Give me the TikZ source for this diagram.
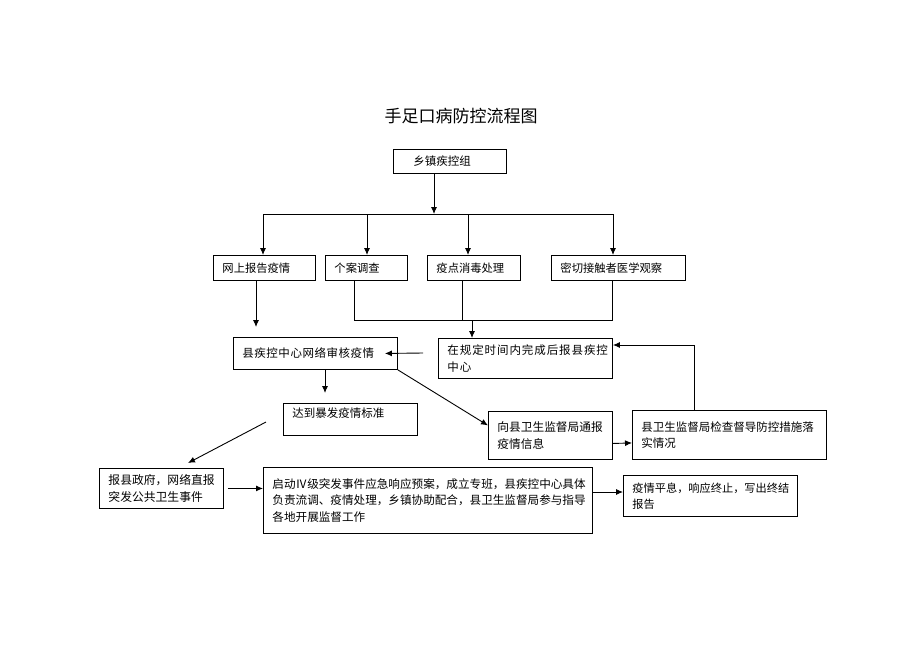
\documentclass[tikz,border=0pt]{standalone}
\usepackage{fontspec}
\newfontfamily\cjk{Noto Sans CJK SC}
\newfontfamily\cjkA[LetterSpace=4.5]{Noto Sans CJK SC}
\newfontfamily\cjkB[LetterSpace=8]{Noto Sans CJK SC}
\usetikzlibrary{arrows.meta}
\begin{document}
\begin{tikzpicture}[x=1pt,y=-1pt,
  box/.style={draw, line width=0.9pt, anchor=north west, align=left,
    inner xsep=9pt, inner ysep=3pt, font=\cjk\fontsize{11.5}{16.5}\selectfont},
  rowbox/.style={box, font=\cjk\fontsize{11.3}{16.5}\selectfont},
  conn/.style={line width=0.9pt},
  arr/.style={conn, -{Latex[length=7pt,width=6pt]}}]
\useasboundingbox (0,0) rectangle (920,651);

\node[font=\cjk\fontsize{17}{20}\selectfont] (title) at (461,116) {手足口病防控流程图};

\node[box, text width=95pt, minimum height=24pt] (town) at (393,149) {\hspace*{11pt}乡镇疾控组};

\node[rowbox, text width=84pt, minimum height=25pt] (r1) at (213,255) {网上报告疫情};
\node[rowbox, text width=64pt, minimum height=25pt] (r2) at (325,255) {个案调查};
\node[rowbox, text width=75pt, minimum height=25pt] (r3) at (427,255) {疫点消毒处理};
\node[rowbox, text width=116pt, minimum height=25pt] (r4) at (551,255) {密切接触者医学观察};

\node[box, font=\cjkA\fontsize{11.5}{16.5}\selectfont, text width=146pt, minimum height=32pt] (cdc) at (233,337) {县疾控中心网络审核疫情};
\node[box, font=\cjkB\fontsize{11.5}{16.5}\selectfont, text width=156pt, minimum height=40pt] (rep) at (438,338) {在规定时间内完成后报县疾控\\中心};
\node[box, inner ysep=4pt, text depth=14pt, text width=116pt] (outb) at (283,403) {达到暴发疫情标准};
\node[box, font=\cjk\fontsize{11.7}{16.5}\selectfont, text width=106pt, minimum height=48pt] (notify) at (488,411) {向县卫生监督局通报\\疫情信息};
\node[box, text width=176pt, minimum height=49pt] (insp) at (632,410) {县卫生监督局检查督导防控措施落\\实情况};

\node[box, font=\cjk\fontsize{11.8}{16.5}\selectfont, text width=106pt, minimum height=40pt] (gov) at (99,468) {报县政府，网络直报\\突发公共卫生事件};
\node[box, font=\cjk\fontsize{11.6}{16.5}\selectfont, text width=311pt, minimum height=66pt] (start) at (263,467) {启动Ⅳ级突发事件应急响应预案，成立专班，县疾控中心具体\\负责流调、疫情处理，乡镇协助配合，县卫生监督局参与指导\\各地开展监督工作};
\node[box, font=\cjk\fontsize{11.2}{16}\selectfont, text width=156pt, minimum height=41pt] (end) at (623,475) {疫情平息，响应终止，写出终结\\报告};

% top distribution
\coordinate (busM) at (434,214);
\coordinate (busL) at (263,214);
\coordinate (bus2) at (367,214);
\coordinate (bus3) at (468,214);
\coordinate (busR) at (613,214);
\draw[arr] (busM |- town.south) -- (busM);
\draw[conn] (busL) -- (busR);
\draw[arr] (busL) -- (busL |- r1.north);
\draw[arr] (bus2) -- (bus2 |- r2.north);
\draw[arr] (bus3) -- (bus3 |- r3.north);
\draw[arr] (busR) -- (busR |- r4.north);

% r1 to cdc
\coordinate (a1) at (256,327);
\draw[arr] (a1 |- r1.south) -- (a1);

% merge r2,r3,r4 to rep
\coordinate (m2) at (354,320);
\coordinate (m3) at (462,320);
\coordinate (m4) at (612,320);
\coordinate (mx) at (472,320);
\draw[conn] (m2 |- r2.south) -- (m2) -- (m4) -- (m4 |- r4.south);
\draw[conn] (m3 |- r3.south) -- (m3);
\draw[arr] (mx) -- (mx |- rep.north);

% rep to cdc
\coordinate (ra) at (423,353);
\draw[arr] (ra) -- ([xshift=-13pt]cdc.east);

% cdc to outb
\coordinate (a2) at (325,393);
\draw[arr] (a2 |- cdc.south) -- (a2);

% cdc to notify
\draw[arr] (cdc.south east) -- ([yshift=10pt]notify.west);

% notify to insp
\draw[arr] ([yshift=-8pt]notify.east) -- ([yshift=-8pt]insp.west);

% insp back to rep
\coordinate (c1) at (694,345);
\draw[arr] (c1 |- insp.north) -- (c1) -- (rep.east |- c1);

% outb to gov (free line)
\coordinate (d1) at (266,422);
\coordinate (d2) at (188,463);
\draw[arr] (d1) -- (d2);

% gov to start
\draw[arr] ([xshift=4pt]gov.east) -- (start.west |- gov.east);

% start to end
\coordinate (e1) at (593,492);
\draw[arr] (e1) -- (end.west |- e1);
\end{tikzpicture}
\end{document}
